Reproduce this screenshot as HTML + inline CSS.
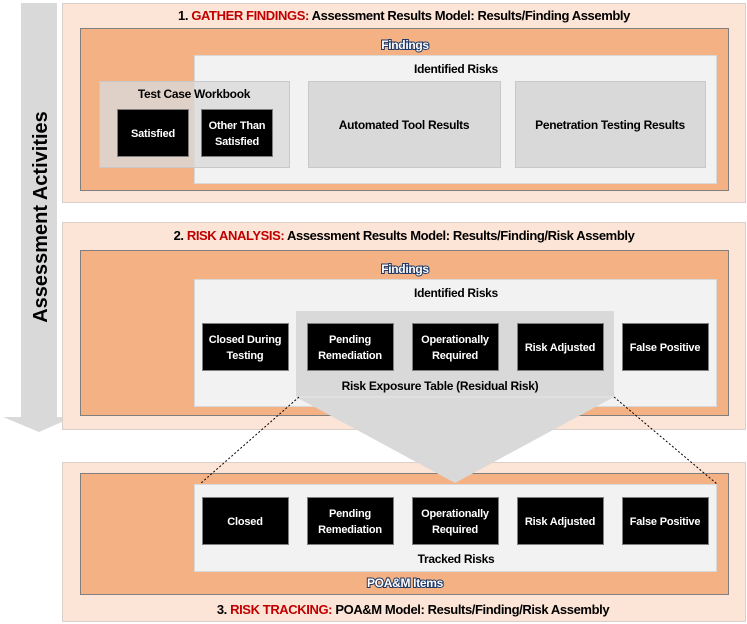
<!DOCTYPE html>
<html><head><meta charset="utf-8"><style>
body{margin:0;background:#fff}
svg{display:block}
text{font-family:"Liberation Sans",sans-serif;font-weight:bold}
.t{font-size:13px;text-anchor:middle;letter-spacing:-0.4px}
.h{font-size:12px;text-anchor:middle;letter-spacing:-0.3px}
.w{font-size:11px;fill:#fff;text-anchor:middle;letter-spacing:-0.2px}
.o{font-size:12px;fill:#fff;stroke:#1f3864;stroke-width:2px;paint-order:stroke;text-anchor:middle;letter-spacing:-0.3px}
.r{fill:#c00000}
</style></head><body>
<svg width="747" height="624" viewBox="0 0 747 624">
<!-- left arrow -->
<polygon points="21,3 57,3 57,417 73,417 39,432 3,417 21,417" fill="#d9d9d9"/>
<text x="0" y="0" transform="translate(47,217) rotate(-90)" font-size="20" text-anchor="middle">Assessment Activities</text>

<!-- Section 1 -->
<rect x="62.5" y="3.5" width="683" height="199" fill="#fce4d6" stroke="#d9d0cc"/>
<text class="t" x="404" y="20">1. <tspan class="r">GATHER FINDINGS:</tspan> Assessment Results Model: Results/Finding Assembly</text>
<rect x="80.5" y="28.5" width="648" height="162" fill="#f4b183" stroke="#7f7f7f"/>
<text class="o" x="405" y="49">Findings</text>
<rect x="194.5" y="55.5" width="522" height="128" fill="#f2f2f2" stroke="#d9d9d9"/>
<text class="h" x="456" y="73">Identified Risks</text>
<rect x="99.5" y="81.5" width="190" height="86" fill="#d9d9d9" fill-opacity="0.8" stroke="#c8c8c8"/>
<text class="h" x="194" y="98">Test Case Workbook</text>
<rect x="117.5" y="109.5" width="71" height="47" fill="#000" stroke="#7f7f7f"/>
<text class="w" x="153" y="137">Satisfied</text>
<rect x="201.5" y="109.5" width="71" height="47" fill="#000" stroke="#7f7f7f"/>
<text class="w" x="237" y="129">Other Than</text>
<text class="w" x="237" y="145">Satisfied</text>
<rect x="308.5" y="81.5" width="192" height="86" fill="#d9d9d9" stroke="#c8c8c8"/>
<text class="h" x="404" y="129">Automated Tool Results</text>
<rect x="515.5" y="81.5" width="190" height="86" fill="#d9d9d9" stroke="#c8c8c8"/>
<text class="h" x="610" y="129">Penetration Testing Results</text>

<!-- Section 2 -->
<rect x="62.5" y="222.5" width="683" height="207" fill="#fce4d6" stroke="#d9d0cc"/>
<text class="t" x="404" y="240">2. <tspan class="r">RISK ANALYSIS:</tspan> Assessment Results Model: Results/Finding/Risk Assembly</text>
<rect x="80.5" y="250.5" width="648" height="165" fill="#f4b183" stroke="#7f7f7f"/>
<text class="o" x="405" y="273">Findings</text>
<rect x="194.5" y="279.5" width="522" height="127" fill="#f2f2f2" stroke="#d9d9d9"/>
<text class="h" x="456" y="297">Identified Risks</text>

<!-- Section 3 -->
<rect x="62.5" y="462.5" width="683" height="159" fill="#fce4d6" stroke="#d9d0cc"/>
<rect x="80.5" y="473.5" width="648" height="121" fill="#f4b183" stroke="#7f7f7f"/>
<rect x="194.5" y="484.5" width="522" height="87" fill="#f2f2f2" stroke="#d9d9d9"/>
<text class="h" x="456" y="563">Tracked Risks</text>
<text class="o" x="405" y="587">POA&amp;M Items</text>
<text class="t" x="413" y="614">3. <tspan class="r">RISK TRACKING:</tspan> POA&amp;M Model: Results/Finding/Risk Assembly</text>

<!-- gray pentagon -->
<polygon points="296,311 614,311 614,397 455,483 296,397" fill="#d9d9d9"/>
<line x1="296" y1="397" x2="614" y2="397" stroke="#e6e6e6"/>
<text class="h" x="440" y="390">Risk Exposure Table (Residual Risk)</text>
<line x1="299" y1="397" x2="200" y2="484" stroke="#000" stroke-dasharray="2,2"/>
<line x1="614" y1="397" x2="717" y2="484" stroke="#000" stroke-dasharray="2,2"/>

<!-- sec2 boxes -->
<g stroke="#7f7f7f" fill="#000">
<rect x="202.5" y="323.5" width="86" height="47"/>
<rect x="307.5" y="323.5" width="86" height="47"/>
<rect x="412.5" y="323.5" width="86" height="47"/>
<rect x="517.5" y="323.5" width="86" height="47"/>
<rect x="622.5" y="323.5" width="86" height="47"/>
<rect x="202.5" y="497.5" width="86" height="47"/>
<rect x="307.5" y="497.5" width="86" height="47"/>
<rect x="412.5" y="497.5" width="86" height="47"/>
<rect x="517.5" y="497.5" width="86" height="47"/>
<rect x="622.5" y="497.5" width="86" height="47"/>
</g>
<text class="w" x="245" y="343">Closed During</text>
<text class="w" x="245" y="359">Testing</text>
<text class="w" x="350" y="343">Pending</text>
<text class="w" x="350" y="359">Remediation</text>
<text class="w" x="455" y="343">Operationally</text>
<text class="w" x="455" y="359">Required</text>
<text class="w" x="560" y="351">Risk Adjusted</text>
<text class="w" x="665" y="351">False Positive</text>

<text class="w" x="245" y="525">Closed</text>
<text class="w" x="350" y="517">Pending</text>
<text class="w" x="350" y="533">Remediation</text>
<text class="w" x="455" y="517">Operationally</text>
<text class="w" x="455" y="533">Required</text>
<text class="w" x="560" y="525">Risk Adjusted</text>
<text class="w" x="665" y="525">False Positive</text>
</svg>
</body></html>
